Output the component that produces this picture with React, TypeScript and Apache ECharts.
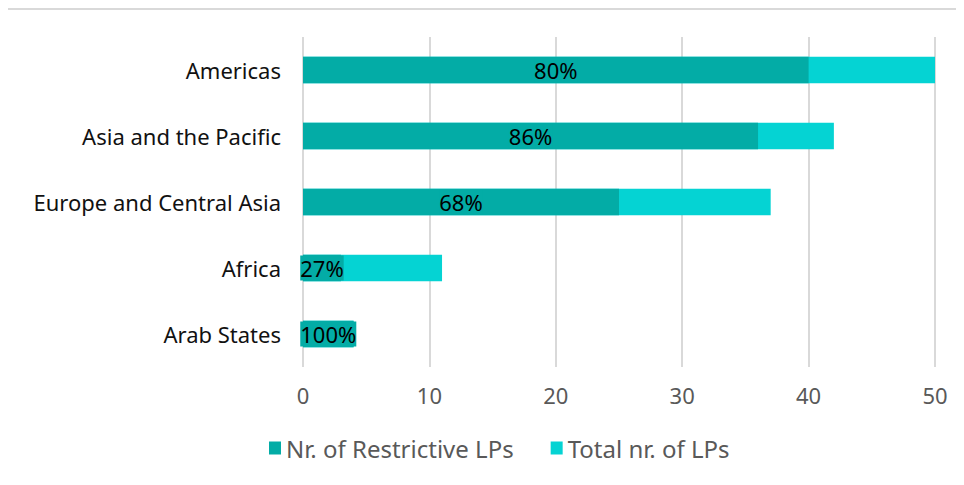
import React, { useEffect, useRef } from "react";
import * as echarts from "echarts";

const categories = ["Americas", "Asia and the Pacific", "Europe and Central Asia", "Africa", "Arab States"];
const restrictive = [40, 36, 25, 3, 4];
const total = [50, 42, 37, 11, 4];
const xTicks = { min: 0, max: 50, interval: 10 };

const FONT = "Noto Sans";

export default function App() {
  const ref = useRef<HTMLDivElement>(null);
  useEffect(() => {
    if (!ref.current) return;
    const chart = echarts.init(ref.current, null, { renderer: "svg" });
    chart.setOption({
      animation: false,
      textStyle: { fontFamily: FONT },
      graphic: [
        {
          type: "line",
          shape: { x1: 0, y1: 3, x2: 2000, y2: 3 },
          style: { stroke: "#d9d9d9", lineWidth: 2 },
          silent: true,
        },
        {
          type: "line",
          shape: { x1: 2, y1: 2, x2: 2, y2: 2000 },
          style: { stroke: "#d9d9d9", lineWidth: 2 },
          silent: true,
        },
      ],
      grid: { left: 299, top: 31, width: 632, height: 330, containLabel: false },
      legend: {
        data: ["Nr. of Restrictive LPs", "Total nr. of LPs"],
        left: 260,
        top: 425,
        icon: "rect",
        itemWidth: 12,
        itemHeight: 13,
        itemGap: 37,
        textStyle: { fontSize: 24, color: "#595959", fontFamily: FONT },
      },
      xAxis: {
        type: "value",
        min: xTicks.min,
        max: xTicks.max,
        interval: xTicks.interval,
        axisLine: { show: false },
        axisTick: { show: false },
        axisLabel: { fontSize: 22, color: "#595959", margin: 17, fontFamily: FONT },
        splitLine: { lineStyle: { color: "#d9d9d9", width: 2 } },
      },
      yAxis: {
        type: "category",
        data: categories,
        inverse: true,
        axisLine: { show: false },
        axisTick: { show: false },
        axisLabel: { fontSize: 22, color: "#111", margin: 22, fontFamily: FONT },
      },
      series: [
        {
          name: "Total nr. of LPs",
          type: "bar",
          data: total,
          barCategoryGap: "60%",
          itemStyle: { color: "#05d3d3" },
        },
        {
          name: "Nr. of Restrictive LPs",
          type: "bar",
          data: restrictive,
          barGap: "-100%",
          barCategoryGap: "60%",
          itemStyle: { color: "#03aca6" },
          label: {
            show: true,
            position: "inside",
            color: "#000",
            fontSize: 22,
            fontFamily: FONT,
            backgroundColor: "#03aca6",
            padding: [2, 0, 1, 0],
            formatter: (p: any) => Math.round((restrictive[p.dataIndex] / total[p.dataIndex]) * 100) + "%",
          },
        },
      ],
    });
    return () => chart.dispose();
  }, []);
  return <div ref={ref} style={{ width: 960, height: 480, marginLeft: -4, marginTop: -2 }} />;
}
